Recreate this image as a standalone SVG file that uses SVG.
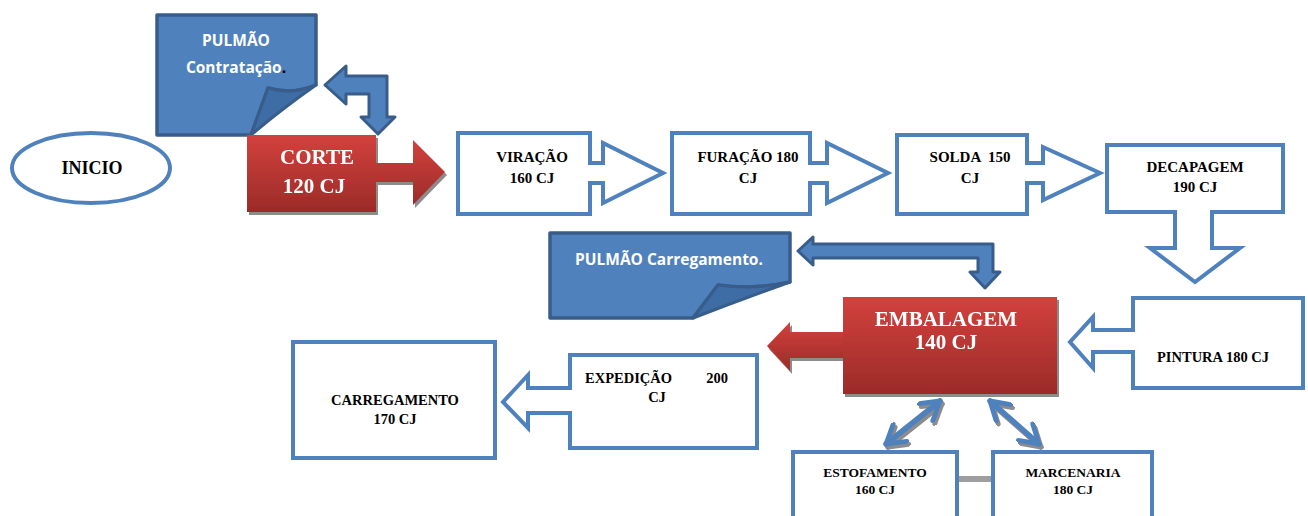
<svg xmlns="http://www.w3.org/2000/svg" width="1308" height="516" viewBox="0 0 1308 516">
<defs>
<style>
.box{fill:#fff;stroke:#4F81BD;stroke-width:4;stroke-linejoin:miter}
.note{fill:#4F81BD;stroke:#385D8A;stroke-width:3.5;stroke-linejoin:round}
.fold{fill:#3E6CA5;stroke:#385D8A;stroke-width:3;stroke-linejoin:round}
.bent{fill:#4F81BD;stroke:#385D8A;stroke-width:3;stroke-linejoin:round}
.red{fill:url(#redg)}
.t{font-family:"Liberation Serif","Times New Roman",serif;font-weight:bold;fill:#000}
.c{text-anchor:middle}
.s{text-anchor:start}
.e{text-anchor:end}
.tw{font-family:"Liberation Serif","Times New Roman",serif;font-weight:bold;fill:#fff;text-anchor:middle}
.tn{font-family:"Open Sans","Liberation Sans",sans-serif;font-weight:bold;fill:#fff;text-anchor:middle}
.line{fill:none;stroke:#4F81BD;stroke-width:5;stroke-linecap:round}
</style>
<linearGradient id="redg" x1="0" y1="0" x2="0" y2="1">
<stop offset="0" stop-color="#D3413D"/>
<stop offset="1" stop-color="#9B2B28"/>
</linearGradient>
<filter id="sh" x="-10%" y="-10%" width="130%" height="140%">
<feDropShadow dx="2" dy="3" stdDeviation="0.6" flood-color="#8C8C8C" flood-opacity="1"/>
</filter>
<marker id="chev" viewBox="0 0 12 12" refX="10" refY="6" markerWidth="4" markerHeight="4" orient="auto-start-reverse" markerUnits="strokeWidth">
<path d="M2,1 L10,6 L2,11" fill="none" stroke="#4F81BD" stroke-width="2.4" stroke-linecap="round" stroke-linejoin="round"/>
</marker>
<marker id="chev2" viewBox="0 0 12 12" refX="10" refY="6" markerWidth="4.6" markerHeight="4.6" orient="auto-start-reverse" markerUnits="strokeWidth">
<path d="M1.5,0.8 L10,6 L1.5,11.2" fill="none" stroke="#4F81BD" stroke-width="2.3" stroke-linecap="round" stroke-linejoin="round"/>
</marker>
</defs>

<g id="connectors">
<path class="line" d="M174,172 H219" marker-end="url(#chev)" filter="url(#sh)"/>
<path class="line" style="stroke-width:5.5" d="M886,444 L940,401" marker-start="url(#chev2)" marker-end="url(#chev2)" filter="url(#sh)"/>
<path class="line" style="stroke-width:5.5" d="M990,401 L1039,444" marker-start="url(#chev2)" marker-end="url(#chev2)" filter="url(#sh)"/>
<path d="M957,479 H993" stroke="#9E9E9E" stroke-width="6" fill="none"/>
<path id="bent1" class="bent" d="M325,85 L346,66 V76 H387 V117 H395 L378,134 L361,117 H369 V94 H346 V104 Z"/>
<path id="bent2" class="bent" d="M798,251 L813,237 V244 H993 V272 H1000 L985,288 L970,272 H978 V258 H813 V265 Z"/>
</g>

<g id="inicio">
<ellipse cx="91" cy="168" rx="79" ry="35" fill="#fff" stroke="#4F81BD" stroke-width="4"/>
<text class="t c" x="92" y="174" font-size="18">INICIO</text>
</g>

<g id="pulmao1">
<path class="note" d="M157,15 H316 V85 Q292,95 268,88 L251,135 H157 Z"/>
<path class="fold" d="M251,135 L268,88 Q292,95 316,85 Q283,108 251,135 Z"/>
<text class="tn" x="236" y="46" font-size="15.5">PULMÃO</text>
<text class="tn" x="236" y="73" font-size="15.5">Contratação<tspan fill="#000">.</tspan></text>
</g>

<g id="corte" filter="url(#sh)">
<rect class="red" x="247" y="135" width="129" height="77"/>
<path class="red" d="M376,163 H413 V140 L445,172 L413,205 V182 H376 Z"/>
<text class="tw" x="317" y="164" font-size="21">CORTE</text>
<text class="tw" x="314" y="193" font-size="21">120 CJ</text>
</g>

<g id="viracao">
<path class="box" d="M458,133 H590 V163 H603 V143 L663,173 L603,203 V183 H590 V214 H458 Z"/>
<text class="t c" x="532" y="162" font-size="15">VIRAÇÃO</text>
<text class="t c" x="532" y="183" font-size="15">160 CJ</text>
</g>

<g id="furacao">
<path class="box" d="M672,133 H810 V163 H827 V143 L888,173 L827,203 V183 H810 V214 H672 Z"/>
<text class="t c" x="748" y="162" font-size="15">FURAÇÃO 180</text>
<text class="t c" x="748" y="183" font-size="15">CJ</text>
</g>

<g id="solda">
<path class="box" d="M897,135 H1027 V163 H1043 V147 L1100,173 L1043,200 V183 H1027 V214 H897 Z"/>
<text class="t c" x="970" y="162" font-size="15" xml:space="preserve">SOLDA  150</text>
<text class="t c" x="970" y="183" font-size="15">CJ</text>
</g>

<g id="decapagem">
<path class="box" d="M1107,145 H1283 V212 H1212 V248 H1240 L1195,282 L1150,248 H1175 V212 H1107 Z"/>
<text class="t c" x="1195" y="172" font-size="15">DECAPAGEM</text>
<text class="t c" x="1195" y="192" font-size="15">190 CJ</text>
</g>

<g id="pintura">
<path class="box" d="M1133,298 H1303 V388 H1133 V352 H1093 V368 L1070,342 L1093,317 V330 H1133 Z"/>
<text class="t c" x="1213" y="362" font-size="14.5">PINTURA 180 CJ</text>
</g>

<g id="pulmao2">
<path class="note" d="M550,233 H790 V282 Q755,290 718,285 L693,318 H550 Z"/>
<path class="fold" d="M693,318 L718,285 Q755,290 790,282 Q740,300 693,318 Z"/>
<text class="tn" x="669" y="265" font-size="15.5">PULMÃO Carregamento.</text>
</g>

<g id="embalagem" filter="url(#sh)">
<rect class="red" x="843" y="297" width="214" height="97"/>
<path class="red" d="M843,332 H790 V322 L767,346 L790,371 V358 H843 Z"/>
<text class="tw" x="946" y="326" font-size="21">EMBALAGEM</text>
<text class="tw" x="946" y="349" font-size="21">140 CJ</text>
</g>

<g id="expedicao">
<path class="box" d="M570,355 H757 V448 H570 V413 H528 V428 L503,402 L528,375 V388 H570 Z"/>
<text class="t s" x="585" y="383" font-size="14.5">EXPEDIÇÃO</text>
<text class="t e" x="728" y="383" font-size="14.5">200</text>
<text class="t c" x="657" y="402" font-size="14.5">CJ</text>
</g>

<g id="carregamento">
<rect class="box" x="293" y="342" width="202" height="116"/>
<text class="t c" x="395" y="405" font-size="14.5">CARREGAMENTO</text>
<text class="t c" x="395" y="424" font-size="14.5">170 CJ</text>
</g>

<g id="estofamento">
<rect class="box" x="793" y="452" width="164" height="70"/>
<text class="t c" x="875" y="477" font-size="13.5">ESTOFAMENTO</text>
<text class="t c" x="875" y="494" font-size="13.5">160 CJ</text>
</g>

<g id="marcenaria">
<rect class="box" x="993" y="452" width="159" height="70"/>
<text class="t c" x="1073" y="477" font-size="13.5">MARCENARIA</text>
<text class="t c" x="1073" y="494" font-size="13.5">180 CJ</text>
</g>
</svg>
